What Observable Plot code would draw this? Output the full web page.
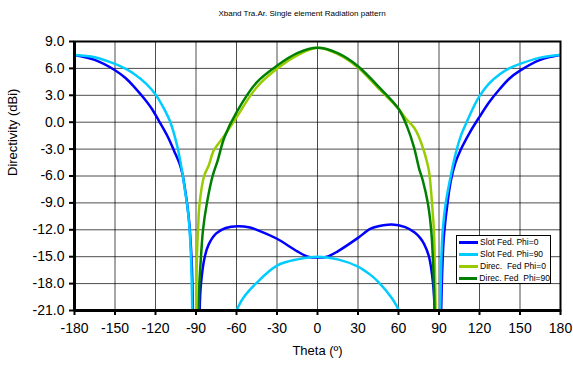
<!DOCTYPE html>
<html>
<head>
<meta charset="utf-8">
<script src="https://cdn.jsdelivr.net/npm/d3@7"></script>
<script src="https://cdn.jsdelivr.net/npm/@observablehq/plot@0.6"></script>
<style>
  html, body { margin: 0; padding: 0; background: #fff; }
  #wrap { position: relative; width: 573px; height: 365px; font-family: "Liberation Sans", Arial, sans-serif; }
  #title { position: absolute; left: 152px; width: 300px; top: 9px; text-align: center; font-size: 8px; color: #000; white-space: pre; }
  #legend { position: absolute; left: 456px; top: 235px; width: 93px; height: 47px; border: 1px solid #000; background: #fff; font-size: 8.5px; color: #000; }
  .row { height: 12px; line-height: 12px; white-space: pre; display: flex; align-items: center; }
  .sw { display: inline-block; width: 19px; height: 3px; margin-left: 2px; margin-right: 2px; }
</style>
</head>
<body>
<div id="wrap">
  <div id="chart"></div>
  <div id="title"></div>
  <div id="legend"></div>
</div>
<script>
// ---- data ----
const title = "Xband Tra.Ar. Single element Radiation pattern";
const xLabel = "Theta (º)";
const yLabel = "Directivity (dBi)";
const xTicks = [-180, -150, -120, -90, -60, -30, 0, 30, 60, 90, 120, 150, 180];
const yTicks = [9, 6, 3, 0, -3, -6, -9, -12, -15, -18, -21];
const seriesNames = ["Slot Fed. Phi=0", "Slot Fed. Phi=90", "Direc.  Fed Phi=0", "Direc. Fed  Phi=90"];
const seriesColors = ["#0000FF", "#00CCFF", "#99CC00", "#008000"];

// Slot Fed. Phi=0 (null = break at a pattern null below -21 dBi)
const slotPhi0Theta = [-180, -165, -150, -142, -135, -129, -123, -117.3, -111, -106.2, -102, -100, -98.3, -96.5, -95, -94, -93, -92.3, null,
  -87.3, -86.3, -83.5, -80.5, -75, -68, -59, -50, -45, -30, -15, -7, 0, 7, 15, 30, 39, 45, 55, 65, 72, 76, 79, 82.6, 85.6, 86.8, null,
  91.6, 92.3, 93.5, 95.5, 98.7, 102, 106, 113, 120, 127, 135, 142, 150, 165, 180];
const slotPhi0Dbi = [7.5, 6.95, 5.8, 4.9, 3.8, 2.75, 1.55, 0.1, -1.6, -3.2, -4.7, -5.8, -7.3, -9.2, -11.2, -13.3, -16.3, -21, null,
  -21, -18, -15, -13.6, -12.4, -11.8, -11.6, -11.75, -12.0, -13.0, -14.4, -15, -15.1, -15, -14.4, -12.9, -11.9, -11.6, -11.4, -11.7, -12.3, -12.9, -13.6, -15, -18, -21, null,
  -21, -17, -13, -10, -6.6, -4.6, -3.1, -1.1, 0.6, 2.2, 3.7, 4.85, 5.75, 6.95, 7.5];

// Slot Fed. Phi=90
const slotPhi90Theta = [-180, -165, -150, -142, -135, -127, -120, -114, -109, -104, -100.5, -98.1, -96.3, -95, -94, -93.3, -92.8, null,
  -60, -55, -45, -30, -15, 0, 15, 30, 39, 45, 55, 60.4, null,
  90.8, 91.3, 91.8, 92.8, 95, 98.7, 102, 106, 110.5, 115, 120, 127, 135, 142, 150, 165, 180];
const slotPhi90Dbi = [7.5, 7.25, 6.5, 5.95, 5.3, 4.3, 3.1, 1.6, 0, -2.6, -5.3, -7.7, -9.5, -11.5, -14, -17, -21, null,
  -21, -19.6, -17.9, -16.0, -15.3, -15.0, -15.3, -16.1, -17.0, -17.8, -19.6, -21, null,
  -21, -18, -15, -12, -9, -6, -3.7, -1.6, 0, 1.5, 2.9, 4.3, 5.35, 6.0, 6.5, 7.2, 7.5];

// Direc. Fed Phi=0
const direcPhi0Theta = [-89.8, -89.3, -88.5, -87.3, -84, -80.5, -77, -69, -60, -45, -30, -15, 0, 15, 30, 44.3, 60, 65, 71.5, 75, 78.8, 82.5, 84.8, 86.2, 86.8, 87.5];
const direcPhi0Dbi = [-21, -15, -12, -9, -6, -4.8, -3.2, -1.5, 0.55, 3.9, 5.95, 7.45, 8.3, 7.6, 6.1, 3.9, 1.5, 0.5, -0.6, -1.6, -3.2, -5.4, -9, -12, -15, -21];

// Direc. Fed Phi=90
const direcPhi90Theta = [-88, -87.5, -86.3, -84.8, -81.9, -77.7, -74, -69, -60, -45, -30, -15, 0, 15, 30, 44.3, 60, 66.5, 71.5, 75.3, 78, 81.7, 84.2, 85.4, 86.2, 86.7];
const direcPhi90Dbi = [-21, -18, -15, -12, -9, -6, -4.3, -1.7, 1.1, 4.45, 6.3, 7.7, 8.3, 7.7, 6.25, 4.1, 1.5, -0.55, -2.8, -5.2, -6.5, -9, -12, -15, -18, -21];

// ---- build table ----
function toRows(name, th, db) {
  return th.map((t, i) => ({series: name, theta: t, dbi: db[i]}));
}
const rows = [
  ...toRows(seriesNames[0], slotPhi0Theta, slotPhi0Dbi),
  ...toRows(seriesNames[1], slotPhi90Theta, slotPhi90Dbi),
  ...toRows(seriesNames[2], direcPhi0Theta, direcPhi0Dbi),
  ...toRows(seriesNames[3], direcPhi90Theta, direcPhi90Dbi)
];

const chart = Plot.plot({
  width: 573,
  height: 365,
  marginLeft: 74,
  marginRight: 13,
  marginTop: 41,
  marginBottom: 55,
  style: {fontFamily: "'Liberation Sans', Arial, sans-serif", fontSize: "14px", color: "#000", background: "transparent", overflow: "visible"},
  x: {domain: [-180, 180]},
  y: {domain: [-21, 9]},
  color: {domain: seriesNames, range: seriesColors},
  marks: [
    Plot.gridX(xTicks, {stroke: "#000", strokeOpacity: 0.7, strokeWidth: 1}),
    Plot.gridY(yTicks, {stroke: "#000", strokeOpacity: 0.7, strokeWidth: 1}),
    Plot.line(rows, {x: "theta", y: "dbi", z: "series", stroke: "series", strokeWidth: 2.5, curve: "catmull-rom", clip: true}),
    Plot.frame({stroke: "#000", strokeWidth: 2}),
    Plot.axisX(xTicks, {tickSize: 5, tickPadding: 8, tickFormat: d => String(d), label: null, strokeWidth: 2}),
    Plot.axisY(yTicks, {tickSize: 5, tickPadding: 5, tickFormat: d => d.toFixed(1), label: null, strokeWidth: 2}),
    Plot.ruleX([-180], {strokeWidth: 3, stroke: "#000"}),
    Plot.ruleY([-21], {strokeWidth: 3, stroke: "#000"}),
    Plot.text([yLabel], {frameAnchor: "left", dx: -62, rotate: -90, text: d => d, fontSize: 13}),
    Plot.text([xLabel], {frameAnchor: "bottom", dy: 44, text: d => d, fontSize: 13})
  ]
});
document.getElementById("chart").appendChild(chart);
document.getElementById("title").textContent = title;

const legend = document.getElementById("legend");
seriesNames.forEach((name, i) => {
  const row = document.createElement("div");
  row.className = "row";
  const sw = document.createElement("span");
  sw.className = "sw";
  sw.style.background = seriesColors[i];
  const tx = document.createElement("span");
  tx.textContent = name;
  row.appendChild(sw);
  row.appendChild(tx);
  legend.appendChild(row);
});
</script>
</body>
</html>
